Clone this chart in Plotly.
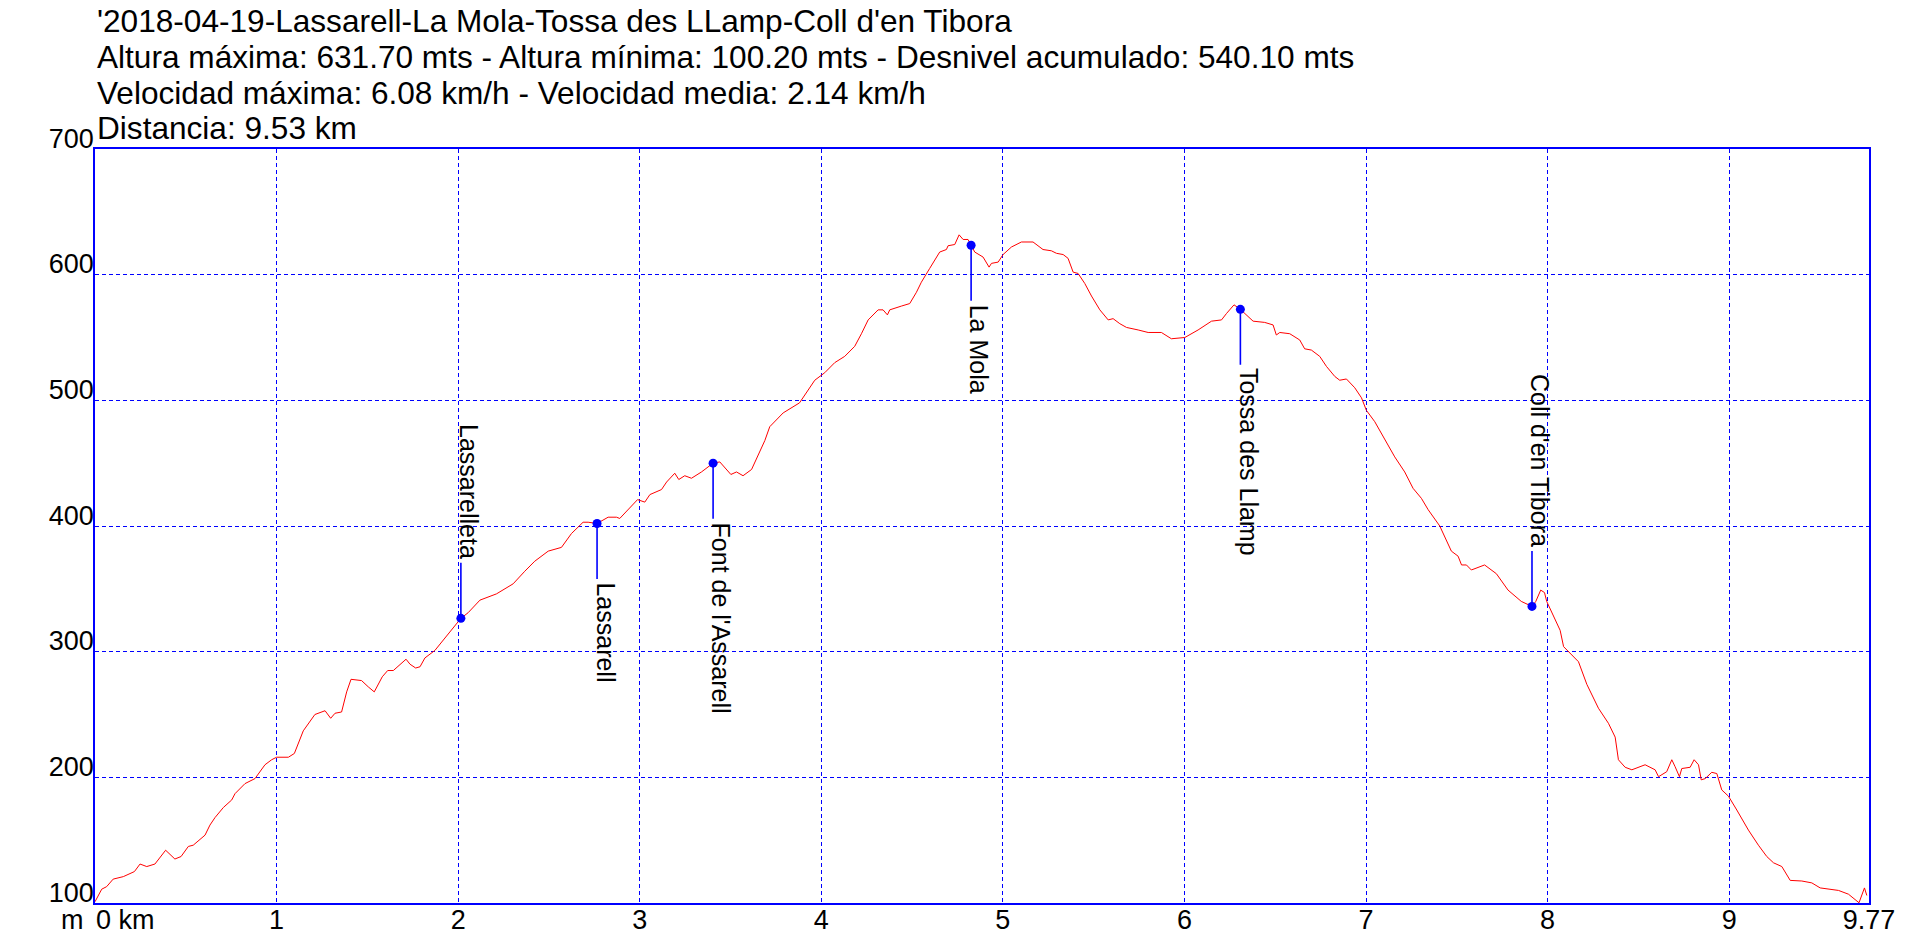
import plotly.graph_objects as go

# ---------------- data ----------------
dist_km = [
    0.000, 0.037, 0.064, 0.100, 0.156, 0.184, 0.217, 0.248, 0.285, 0.330,
    0.389, 0.440, 0.474, 0.514, 0.541, 0.606, 0.633, 0.661, 0.707, 0.753,
    0.771, 0.826, 0.881, 0.936, 0.973, 1.000, 1.065, 1.098, 1.147, 1.211,
    1.267, 1.298, 1.322, 1.358, 1.386, 1.410, 1.468, 1.505, 1.538, 1.582,
    1.612, 1.643, 1.713, 1.735, 1.766, 1.790, 1.817, 1.872, 1.918, 1.982,
    2.015, 2.055, 2.120, 2.211, 2.303, 2.367, 2.422, 2.496, 2.569, 2.624,
    2.688, 2.716, 2.765, 2.826, 2.872, 2.890, 2.936, 2.988, 3.028, 3.056,
    3.120, 3.148, 3.193, 3.215, 3.248, 3.285, 3.340, 3.404, 3.441, 3.502,
    3.533, 3.569, 3.616, 3.652, 3.689, 3.716, 3.790, 3.880, 3.964, 4.019,
    4.074, 4.129, 4.184, 4.221, 4.258, 4.313, 4.340, 4.364, 4.377, 4.441,
    4.487, 4.524, 4.551, 4.597, 4.652, 4.689, 4.698, 4.735, 4.759, 4.781,
    4.808, 4.825, 4.845, 4.891, 4.924, 4.937, 4.974, 5.001, 5.047, 5.102,
    5.166, 5.221, 5.267, 5.295, 5.332, 5.359, 5.387, 5.414, 5.451, 5.488,
    5.534, 5.580, 5.607, 5.644, 5.681, 5.745, 5.800, 5.873, 5.928, 6.002,
    6.075, 6.149, 6.204, 6.231, 6.273, 6.308, 6.378, 6.442, 6.488, 6.506,
    6.525, 6.580, 6.635, 6.662, 6.699, 6.745, 6.782, 6.828, 6.855, 6.892,
    6.938, 6.975, 7.002, 7.048, 7.103, 7.158, 7.213, 7.259, 7.305, 7.342,
    7.406, 7.452, 7.470, 7.507, 7.526, 7.553, 7.580, 7.653, 7.718, 7.782,
    7.855, 7.914, 7.935, 7.962, 7.983, 7.995, 8.032, 8.069, 8.088, 8.115,
    8.170, 8.216, 8.280, 8.335, 8.372, 8.390, 8.427, 8.464, 8.537, 8.592,
    8.611, 8.656, 8.684, 8.702, 8.726, 8.739, 8.785, 8.807, 8.831, 8.846,
    8.868, 8.904, 8.932, 8.959, 8.996, 9.042, 9.106, 9.161, 9.207, 9.244,
    9.290, 9.336, 9.400, 9.455, 9.501, 9.602, 9.657, 9.715, 9.728, 9.745,
    9.758,
]
alt_m = [
    101, 111, 113, 119, 121, 123, 125, 131, 129, 131,
    142, 135, 137, 145, 146, 154, 162, 168, 176, 182,
    187, 195, 199, 210, 214, 216, 216, 219, 237, 250,
    253, 247, 251, 252, 268, 278, 277, 272, 268, 280,
    285, 285, 294, 290, 287, 288, 295, 301, 309, 321,
    326.5, 331, 341, 346, 354, 364, 372, 380, 383, 394,
    403, 403, 402, 407, 407, 406, 413, 421, 419, 425,
    429, 435, 442, 437, 440, 438, 443, 450, 451, 441,
    443, 440, 445, 457, 468, 479, 490, 498, 516, 522,
    530, 535, 543, 553, 564, 572, 572, 568, 572, 575,
    577, 586, 594, 605, 618, 620, 623, 624, 631.7, 628,
    628, 623.4, 618, 614, 606, 609, 610, 616, 622, 626,
    626, 620, 619, 617, 616, 613, 602, 601, 593, 583,
    572, 564, 565, 561, 558, 556, 554, 554, 549, 550,
    556, 563, 564, 569, 576, 572.4, 563, 562, 560, 552,
    554, 553, 548, 541, 540, 535, 527, 519, 516, 517,
    510, 502, 492, 483, 469, 455, 443, 430, 422, 413,
    400, 386, 380, 376, 369, 369, 365, 369, 362, 349,
    340, 336, 340, 349, 347, 340, 329, 317, 304, 300,
    292, 274, 255, 243, 232, 214, 208, 206, 210, 206,
    200.5, 204.5, 214, 208.5, 200.5, 207, 208, 214, 210, 198,
    199, 204, 203, 190, 185, 174, 158, 146, 137, 132,
    129, 118, 117.5, 116, 112, 110, 107, 100.2, 105, 112,
    106,
]

wp_names = ["Lassarelleta", "Lassarell", "Font de l'Assarell",
            "La Mola", "Tossa des Llamp", "Coll d'en Tibora"]
wp_km = [2.015, 2.765, 3.404, 4.825, 6.308, 7.914]
wp_alt = [326.5, 402, 450, 623.4, 572.4, 336]
wp_side = ["up", "down", "down", "down", "down", "up"]

x_tick_vals = [1, 2, 3, 4, 5, 6, 7, 8, 9, 9.77]
x_tick_text = ["1", "2", "3", "4", "5", "6", "7", "8", "9", "9.77"]
y_tick_vals = [100, 200, 300, 400, 500, 600, 700]
y_tick_text = ["100", "200", "300", "400", "500", "600", "700"]
x_first_label = "0 km"
y_unit_label = "m"

title_lines = [
    "'2018-04-19-Lassarell-La Mola-Tossa des LLamp-Coll d'en Tibora",
    "Altura máxima: 631.70 mts - Altura mínima: 100.20 mts - Desnivel acumulado: 540.10 mts",
    "Velocidad máxima: 6.08 km/h - Velocidad media: 2.14 km/h",
    "Distancia: 9.53 km",
]

# ---------------- style ----------------
BLUE = "#0000ff"
RED = "#ff0000"
FONT = "Arial, 'Liberation Sans', sans-serif"
W, H = 1916, 950
ML, MR, MT, MB = 95, 47, 149, 47
TITLE_CENTERS_PX = [21, 56.5, 92.5, 127.5]
LEADER_PX = 57

fig = go.Figure()
fig.add_trace(go.Scatter(
    x=dist_km, y=alt_m, mode="lines",
    line=dict(color=RED, width=1), hoverinfo="skip", showlegend=False,
))
fig.add_trace(go.Scatter(
    x=wp_km, y=wp_alt, mode="markers",
    marker=dict(color=BLUE, size=9), hoverinfo="skip", showlegend=False,
))

for name, xk, ya, side in zip(wp_names, wp_km, wp_alt, wp_side):
    up = side == "up"
    sgn = 1 if up else -1
    fig.add_annotation(
        x=xk, y=ya, xref="x", yref="y", text="", showarrow=True,
        ax=0, ay=-sgn * LEADER_PX, arrowhead=0, arrowwidth=1.6,
        arrowcolor=BLUE, standoff=0, startstandoff=0,
    )
    fig.add_annotation(
        x=xk, y=ya, xref="x", yref="y", text=name, showarrow=False,
        textangle=90, xanchor="left", yanchor="bottom" if up else "top",
        yshift=sgn * LEADER_PX, xshift=-8,
        font=dict(family=FONT, size=25, color="black"),
    )

for line, cy in zip(title_lines, TITLE_CENTERS_PX):
    fig.add_annotation(
        xref="paper", yref="paper", x=0, y=1, xanchor="left", yanchor="middle",
        yshift=MT - cy, text=line, showarrow=False,
        font=dict(family=FONT, size=31.6, color="black"),
    )

fig.add_annotation(
    xref="x", yref="paper", x=0, y=0, xanchor="left", yanchor="middle",
    yshift=-17, xshift=-1, text=x_first_label, showarrow=False,
    font=dict(family=FONT, size=27, color="black"),
)
fig.add_annotation(
    xref="paper", yref="paper", x=0, y=0, xanchor="right", yanchor="middle",
    yshift=-17, xshift=-9, text=y_unit_label, showarrow=False,
    font=dict(family=FONT, size=27, color="black"),
)

fig.update_layout(
    width=W, height=H,
    margin=dict(l=ML, r=MR, t=MT, b=MB, pad=0, autoexpand=False),
    paper_bgcolor="white", plot_bgcolor="white",
    showlegend=False,
    font=dict(family=FONT, color="black"),
)
fig.update_xaxes(
    range=[0, 9.77], tickmode="array", tickvals=x_tick_vals, ticktext=x_tick_text,
    showgrid=True, gridcolor=BLUE, gridwidth=1, griddash="4px,3px",
    showline=True, linecolor=BLUE, linewidth=1.5, mirror=True,
    ticks="", zeroline=False, tickfont=dict(family=FONT, size=27, color="black"),
    ticklabelstandoff=-8, automargin=False,
)
fig.update_yaxes(
    range=[100, 700], tickmode="array", tickvals=y_tick_vals, ticktext=y_tick_text,
    showgrid=True, gridcolor=BLUE, gridwidth=1, griddash="4px,3px",
    showline=True, linecolor=BLUE, linewidth=1.5, mirror=True,
    ticks="", zeroline=False, ticklabelposition="outside top",
    ticklabelstandoff=-6, ticklabelshift=8,
    tickfont=dict(family=FONT, size=27, color="black"),
    automargin=False,
)

fig.write_html(
    "out.html",
    config={"displayModeBar": False},
    post_script="document.body.style.margin='0';document.body.style.padding='0';",
)
